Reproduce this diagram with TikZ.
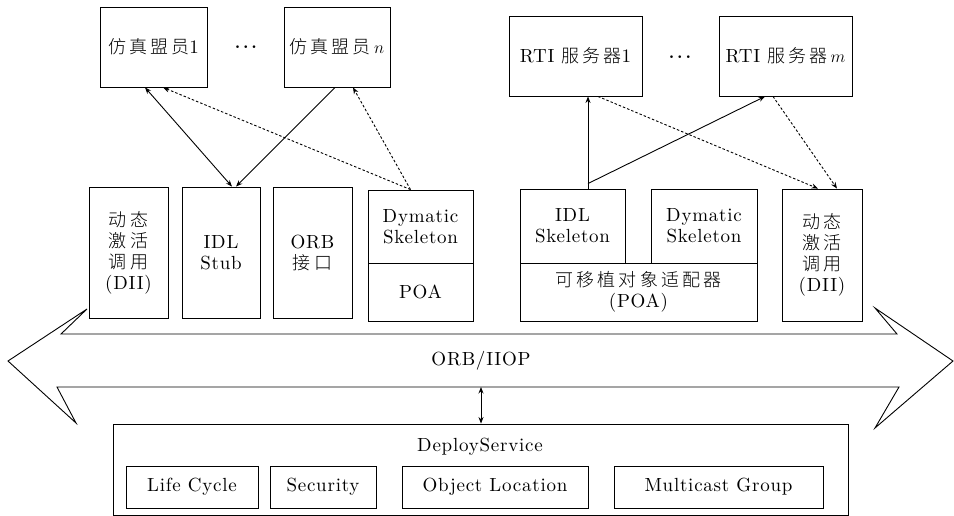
\documentclass[tikz,border=0pt]{standalone}
\usepackage{fontspec}
\newfontfamily\cjkfam{Noto Sans CJK SC Light}[LetterSpace=17]
\newfontfamily\lmsp{lmroman10-regular.otf}[LetterSpace=4]
\usetikzlibrary{arrows.meta}
\newcommand\spacedrm{\lmsp\fontsize{19}{21}\selectfont}
\newcommand\cjk{\cjkfam\fontsize{18}{21}\selectfont}
\newcommand\tightdots{$\cdot\mkern-1.5mu\cdot\mkern-1.5mu\cdot$}

\begin{document}
\begin{tikzpicture}[x=1pt,y=-1pt,
  box/.style={draw, line width=0.9pt, inner sep=0pt, align=center, font=\spacedrm},
  lbl/.style={inner sep=0pt, align=center, font=\spacedrm},
  link/.style={line width=0.9pt, -{Stealth[length=6.5pt,width=5pt]}},
  duallink/.style={line width=0.9pt, {Stealth[length=6.5pt,width=5pt]}-{Stealth[length=6.5pt,width=5pt]}},
  dotlink/.style={link, dash pattern=on 2.5pt off 2pt}]
\clip (0,0) rectangle (954,515);

% federates and RTI servers
\node[box, minimum width=107pt, minimum height=80pt] (m1) at (153.5,47) {{\cjk 仿真盟员}1};
\node[box, minimum width=106pt, minimum height=80pt] (mn) at (337,47) {{\cjk 仿真盟员}\,$n$};
\node[lbl, font=\spacedrm\boldmath] (dots1) at (246,47) {\tightdots};
\node[box, minimum width=133pt, minimum height=80pt] (r1) at (575.5,56) {RTI {\cjk 服务器}1};
\node[box, minimum width=133pt, minimum height=80pt] (rm) at (785.5,56) {RTI {\cjk 服务器}\,$m$};
\node[lbl, font=\spacedrm\boldmath] (dots2) at (680,57) {\tightdots};

% client side ORB components
\node[box, minimum width=79pt, minimum height=131pt] (dii1) at (128.5,252.5)
  {{\cjk 动态}\\{\cjk 激活}\\{\cjk 调用}\\(DII)};
\node[box, minimum width=78pt, minimum height=131pt] (stub) at (221,252.5) {IDL\\Stub};
\node[box, minimum width=79pt, minimum height=131pt] (orbi) at (312.5,252.5) {ORB\\{\cjk 接口}};
\node[box, minimum width=105pt, minimum height=73pt] (dsk1) at (420.5,226.5) {Dymatic\\Skeleton};
\node[box, minimum width=105pt, minimum height=58pt] (poa1) at (420.5,292) {POA};

% server side ORB components
\node[box, minimum width=105pt, minimum height=74pt] (idlsk) at (572.5,226) {IDL\\Skeleton};
\node[box, minimum width=106pt, minimum height=74pt] (dsk2) at (704,226) {Dymatic\\Skeleton};
\node[box, minimum width=237pt, minimum height=58pt] (poa2) at (638.5,292)
  {{\cjk 可移植对象适配器}\\(POA)};
\node[box, minimum width=80pt, minimum height=132pt] (dii2) at (822,255)
  {{\cjk 动态}\\{\cjk 激活}\\{\cjk 调用}\\(DII)};

% ORB/IIOP bus
\draw[line width=0.9pt] (61,334) -- (897,334) -- (875,308) -- (953,361) -- (875,428)
  -- (899,387) -- (57,387) -- (76,423) -- (8,361) -- (87,309) -- cycle;
\node[lbl] (bus) at (481,361) {ORB/IIOP};
\coordinate (busb) at (481,387);

% deployment service
\node[box, minimum width=735pt, minimum height=91pt] (dep) at (480.5,469.5) {};
\node[lbl] (deplbl) at (480,447) {DeployService};
\node[box, minimum width=132pt, minimum height=42pt] (lc) at (192,487) {Life Cycle};
\node[box, minimum width=106pt, minimum height=42pt] (sec) at (323,487) {Security};
\node[box, minimum width=186pt, minimum height=42pt] (ol) at (495,487) {Object Location};
\node[box, minimum width=209pt, minimum height=42pt] (mg) at (718.5,487) {Multicast Group};

\draw[duallink] (busb) -- (busb |- dep.north);

% client side invocations
\draw[duallink] ([xshift=-8.5pt]m1.south) -- ([xshift=11pt]stub.north);
\draw[link] ([xshift=-2pt]mn.south) -- ([xshift=15pt]stub.north);
\draw[dotlink] ([xshift=-10pt]dsk1.north) -- ([xshift=9.5pt]m1.south);
\draw[dotlink] ([xshift=-10pt]dsk1.north) -- ([xshift=16pt]mn.south);

% server side invocations
\coordinate (fork) at ([xshift=15.5pt,yshift=5pt]idlsk.north);
\draw[link] ([xshift=15.5pt]idlsk.north) -- ([xshift=12.5pt]r1.south);
\draw[link] (fork) -- ([xshift=-20.5pt]rm.south);
\draw[dotlink] ([xshift=22.5pt]r1.south) -- ([xshift=-4pt]dii2.north);
\draw[dotlink] ([xshift=-12.5pt]rm.south) -- ([xshift=15pt]dii2.north);
\end{tikzpicture}
\end{document}
